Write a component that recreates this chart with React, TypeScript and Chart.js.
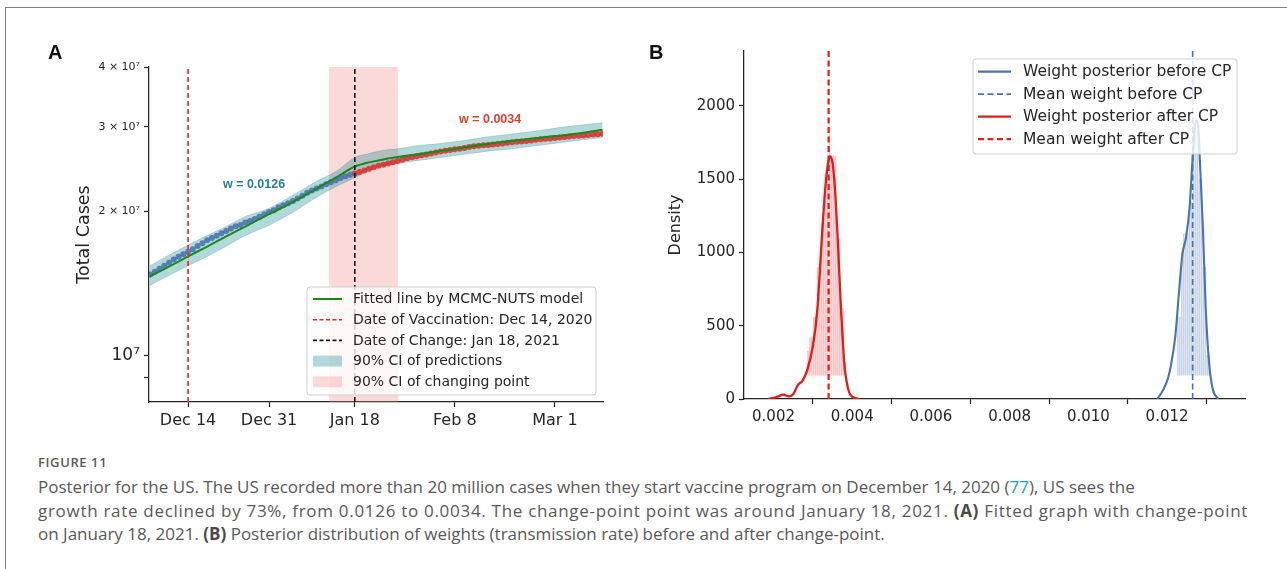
import React, { useEffect, useRef } from 'react';
import { Chart, registerables } from 'chart.js';

Chart.register(...registerables);

const FONT = '"DejaVu Sans", "Liberation Sans", sans-serif';
const AXIS_COLOR = '#262626';

// ---------------- Panel A data ----------------
// days are counted from Dec 14, 2020
const X_TICK_DAYS_A = [0, 17, 35, 56, 77];
const X_TICK_LABELS_A = ['Dec 14', 'Dec 31', 'Jan 18', 'Feb 8', 'Mar 1'];
const Y_TICK_VALUES_A = [9e6, 1e7, 2e7, 3e7, 4e7];
const Y_TICK_LABELS_A = ['', '10⁷', '2 × 10⁷', '3 × 10⁷', '4 × 10⁷'];
const X_RANGE_A = [-8.2, 87.1];
const Y_RANGE_A = [8.0e6, 4.0e7];
const FIRST_DAY = -8; // Dec 6, 2020
const VACCINATION_DAY = 0; // Dec 14, 2020
const CHANGE_DAY = 35; // Jan 18, 2021
const CHANGE_CI_DAYS = [29.6, 44.1];

// observed total cases (millions), Dec 6 – Jan 17
const CASES_BEFORE_CP = [
  14.76, 14.95, 15.17, 15.39, 15.62, 15.86, 16.08, 16.27, 16.47, 16.67,
  16.92, 17.16, 17.41, 17.6, 17.79, 17.99, 18.19, 18.42, 18.62, 18.72,
  18.94, 19.09, 19.28, 19.48, 19.71, 19.94, 20.09, 20.38, 20.59, 20.78,
  21.01, 21.27, 21.55, 21.85, 22.1, 22.31, 22.53, 22.76, 22.99, 23.22,
  23.46, 23.66, 23.83,
];
// observed total cases (millions), Jan 18 – Mar 11
const CASES_AFTER_CP = [
  23.97, 24.14, 24.33, 24.52, 24.71, 24.88, 25.02, 25.17, 25.32, 25.47,
  25.63, 25.79, 25.93, 26.04, 26.17, 26.28, 26.4, 26.52, 26.65, 26.75,
  26.84, 26.93, 27.02, 27.12, 27.22, 27.32, 27.4, 27.46, 27.51, 27.57,
  27.64, 27.71, 27.79, 27.86, 27.92, 27.97, 28.04, 28.11, 28.19, 28.27,
  28.33, 28.38, 28.44, 28.5, 28.57, 28.63, 28.7, 28.76, 28.8, 28.85,
  28.91, 28.97, 29.03,
];
// fitted line (millions)
const FIT_DAYS = [-8, -4, 0, 4, 8, 12, 17, 22, 27, 31, 35, 37, 39, 42, 45, 49, 53, 57, 61, 65, 69, 73, 77, 81, 84, 87];
const FIT_CASES = [
  14.62, 15.33, 16.1, 16.88, 17.72, 18.58, 19.72, 20.9, 22.3, 23.5,
  24.8, 25.15, 25.42, 25.78, 26.05, 26.38, 26.72, 27.1, 27.48, 27.82,
  28.12, 28.42, 28.7, 29.0, 29.28, 29.6,
];
// 90% CI of predictions (millions)
const BAND_DAYS = [-8, -4, 0, 4, 8, 12, 17, 22, 27, 31, 35, 38, 41, 44, 48, 53, 58, 63, 68, 73, 78, 83, 87];
const BAND_UPPER = [15.4, 16.2, 17.0, 17.8, 18.6, 19.5, 20.3, 21.6, 23.1, 24.2, 25.9, 26.4, 26.8, 27.0, 27.4, 27.7, 28.1, 28.6, 29.0, 29.4, 29.9, 30.3, 30.6];
const BAND_LOWER = [14.0, 14.7, 15.4, 16.1, 16.9, 17.8, 18.7, 19.9, 21.4, 22.5, 23.5, 24.3, 24.9, 25.2, 25.5, 25.9, 26.3, 26.7, 27.0, 27.4, 27.8, 28.2, 28.5];

const LEGEND_A_LABELS = [
  'Fitted line by MCMC-NUTS model',
  'Date of Vaccination: Dec 14, 2020',
  'Date of Change: Jan 18, 2021',
  '90% CI of predictions',
  '90% CI of changing point',
];

// ---------------- Panel B data ----------------
const X_TICKS_B = [0.002, 0.004, 0.006, 0.008, 0.01, 0.012];
const X_TICK_LABELS_B = ['0.002', '0.004', '0.006', '0.008', '0.010', '0.012'];
const Y_TICKS_B = [0, 500, 1000, 1500, 2000];
const X_RANGE_B = [0.00125, 0.01398];
const Y_RANGE_B = [0, 2375];
const MEAN_BEFORE = 0.01265;
const MEAN_AFTER = 0.0034;

const KDE_AFTER_X = [0.00186, 0.002, 0.00212, 0.00224, 0.0024, 0.0025, 0.00262, 0.00274, 0.00286, 0.003, 0.00311, 0.00322, 0.00331, 0.00338, 0.00344, 0.0035, 0.00356, 0.00363, 0.00371, 0.0038, 0.0039, 0.00402, 0.00418];
const KDE_AFTER_Y = [0, 7, 18, 30, 18, 32, 95, 125, 200, 360, 600, 1060, 1420, 1600, 1655, 1610, 1440, 1100, 640, 240, 65, 12, 0];
const KDE_BEFORE_X = [0.01175, 0.01189, 0.01203, 0.01212, 0.01221, 0.0123, 0.01239, 0.01248, 0.01257, 0.01266, 0.01273, 0.01278, 0.01284, 0.01291, 0.01298, 0.01307, 0.01316, 0.0133];
const KDE_BEFORE_Y = [0, 57, 148, 262, 430, 720, 990, 1100, 1300, 1690, 1900, 1890, 1590, 1170, 630, 240, 68, 0];

const HIST_BASE = 160;
const HIST_AFTER_BINS = [0.002875, 0.002925, 0.002975, 0.003025, 0.003075, 0.003125, 0.003175, 0.003225, 0.003275, 0.003325, 0.003375, 0.003425, 0.003475, 0.003525, 0.003575, 0.003625, 0.003675, 0.003725, 0.003775, 0.003825];
const HIST_AFTER_HEIGHTS = [330, 420, 420, 560, 560, 900, 900, 1200, 1200, 1500, 1500, 1840, 1660, 1660, 1660, 1100, 1100, 620, 620, 250];
const HIST_BEFORE_BINS = [0.012275, 0.012325, 0.012375, 0.012425, 0.012475, 0.012525, 0.012575, 0.012625, 0.012675, 0.012725, 0.012775, 0.012825, 0.012875, 0.012925, 0.012975, 0.013025, 0.013075];
const HIST_BEFORE_HEIGHTS = [560, 560, 1000, 1130, 1130, 1130, 1350, 1350, 1900, 1920, 1900, 1500, 1500, 900, 900, 300, 300];

const LEGEND_B_LABELS = [
  'Weight posterior before CP',
  'Mean weight before CP',
  'Weight posterior after CP',
  'Mean weight after CP',
];

// ---------------- colours ----------------
const GREEN = '#178a17';
const BLUE_DOT = 'rgba(70,110,175,0.85)';
const RED_DOT = 'rgba(218,45,45,0.85)';
const TEAL_FILL = 'rgba(0,128,128,0.3)';
const TEAL_EDGE = 'rgba(0,128,128,0.22)';
const PINK_FILL = 'rgba(240,128,128,0.3)';
const VAC_RED = '#e8262a';
const CHANGE_BLACK = '#1a1a1a';
const KDE_RED = '#e41a1c';
const KDE_BLUE = '#4c72b0';

type Row = { kind: 'line' | 'patch'; color: string; dash?: number[]; width?: number };

function drawLegend(
  ctx: CanvasRenderingContext2D,
  box: { x: number; y: number; w: number; h: number },
  rows: Row[],
  labels: string[],
  o: { first: number; gap: number; s0: number; s1: number; tx: number; font: string; patchH: number }
) {
  ctx.save();
  ctx.beginPath();
  if ((ctx as any).roundRect) (ctx as any).roundRect(box.x, box.y, box.w, box.h, 3);
  else ctx.rect(box.x, box.y, box.w, box.h);
  ctx.fillStyle = 'rgba(255,255,255,0.8)';
  ctx.fill();
  ctx.strokeStyle = '#cfcfcf';
  ctx.lineWidth = 1;
  ctx.stroke();
  rows.forEach((r, i) => {
    const cy = box.y + o.first + i * o.gap;
    if (r.kind === 'patch') {
      ctx.fillStyle = r.color;
      ctx.fillRect(box.x + o.s0, cy - o.patchH / 2, o.s1 - o.s0, o.patchH);
    } else {
      ctx.beginPath();
      ctx.setLineDash(r.dash || []);
      ctx.strokeStyle = r.color;
      ctx.lineWidth = r.width || 2;
      ctx.moveTo(box.x + o.s0, cy);
      ctx.lineTo(box.x + o.s1, cy);
      ctx.stroke();
      ctx.setLineDash([]);
    }
    ctx.fillStyle = AXIS_COLOR;
    ctx.font = o.font;
    ctx.textAlign = 'left';
    ctx.textBaseline = 'middle';
    ctx.fillText(labels[i], box.x + o.tx, cy + 0.5);
  });
  ctx.restore();
}

function vline(ctx: CanvasRenderingContext2D, x: number, top: number, bottom: number, color: string, dash: number[], width: number) {
  ctx.save();
  ctx.beginPath();
  ctx.setLineDash(dash);
  ctx.strokeStyle = color;
  ctx.lineWidth = width;
  ctx.moveTo(x, bottom);
  ctx.lineTo(x, top);
  ctx.stroke();
  ctx.restore();
}

const panelAPlugin = {
  id: 'panelA',
  beforeDatasetsDraw(chart: any) {
    const { ctx, chartArea: ca, scales } = chart;
    const x0 = scales.x.getPixelForValue(CHANGE_CI_DAYS[0]);
    const x1 = scales.x.getPixelForValue(CHANGE_CI_DAYS[1]);
    ctx.save();
    ctx.fillStyle = PINK_FILL;
    ctx.fillRect(x0, ca.top, x1 - x0, ca.bottom - ca.top);
    ctx.restore();
  },
  afterDatasetsDraw(chart: any) {
    const { ctx, chartArea: ca, scales } = chart;
    vline(ctx, scales.x.getPixelForValue(VACCINATION_DAY), ca.top, ca.bottom, VAC_RED, [5, 3], 1.6);
    vline(ctx, scales.x.getPixelForValue(CHANGE_DAY), ca.top, ca.bottom, CHANGE_BLACK, [5, 3], 1.6);
    ctx.save();
    ctx.font = 'bold 12.5px "Liberation Sans", Arial, sans-serif';
    ctx.textAlign = 'center';
    ctx.textBaseline = 'middle';
    ctx.fillStyle = '#2a7d9f';
    ctx.fillText('w = 0.0126', scales.x.getPixelForValue(13.85), scales.y.getPixelForValue(2.275e7));
    ctx.fillStyle = '#d9412f';
    ctx.fillText('w = 0.0034', scales.x.getPixelForValue(63.4), scales.y.getPixelForValue(3.11e7));
    ctx.restore();
  },
  afterDraw(chart: any) {
    const { ctx, chartArea: ca } = chart;
    const w = 289, h = 108;
    drawLegend(
      ctx,
      { x: ca.right - 7 - w, y: ca.bottom - 7 - h, w, h },
      [
        { kind: 'line', color: GREEN, width: 2 },
        { kind: 'line', color: VAC_RED, dash: [4, 2.5], width: 1.6 },
        { kind: 'line', color: CHANGE_BLACK, dash: [4, 2.5], width: 1.6 },
        { kind: 'patch', color: TEAL_FILL },
        { kind: 'patch', color: PINK_FILL },
      ],
      LEGEND_A_LABELS,
      { first: 12, gap: 20.7, s0: 6, s1: 35, tx: 46, font: '14px ' + FONT, patchH: 11 }
    );
  },
};

const panelBPlugin = {
  id: 'panelB',
  afterDatasetsDraw(chart: any) {
    const { ctx, chartArea: ca, scales } = chart;
    vline(ctx, scales.x.getPixelForValue(MEAN_AFTER), ca.top, ca.bottom, KDE_RED, [6, 3.5], 2.2);
    vline(ctx, scales.x.getPixelForValue(MEAN_BEFORE), ca.top, ca.bottom, KDE_BLUE, [6, 3.5], 1.6);
  },
  afterDraw(chart: any) {
    const { ctx, chartArea: ca } = chart;
    drawLegend(
      ctx,
      { x: ca.left + 229, y: ca.top + 8, w: 264, h: 95 },
      [
        { kind: 'line', color: KDE_BLUE, width: 2.2 },
        { kind: 'line', color: KDE_BLUE, dash: [6, 3.5], width: 1.8 },
        { kind: 'line', color: KDE_RED, width: 2.2 },
        { kind: 'line', color: KDE_RED, dash: [6, 3.5], width: 2.2 },
      ],
      LEGEND_B_LABELS,
      { first: 12.7, gap: 22.5, s0: 5, s1: 38, tx: 50, font: '15.5px ' + FONT, patchH: 11 }
    );
  },
};

function axisCommon() {
  return {
    grid: { drawOnChartArea: false, drawTicks: true, tickLength: 5, tickColor: AXIS_COLOR, tickWidth: 1.25 },
    border: { display: true, color: AXIS_COLOR, width: 1.25 },
  };
}

function configA(): any {
  const before = CASES_BEFORE_CP.map((v, i) => ({ x: FIRST_DAY + i, y: v * 1e6 }));
  const after = CASES_AFTER_CP.map((v, i) => ({ x: CHANGE_DAY + i, y: v * 1e6 }));
  const fit = FIT_DAYS.map((d, i) => ({ x: d, y: FIT_CASES[i] * 1e6 }));
  const lower = BAND_DAYS.map((d, i) => ({ x: d, y: BAND_LOWER[i] * 1e6 }));
  const upper = BAND_DAYS.map((d, i) => ({ x: d, y: BAND_UPPER[i] * 1e6 }));
  return {
    type: 'line',
    data: {
      datasets: [
        { label: 'fit', data: fit, borderColor: GREEN, borderWidth: 2, pointRadius: 0, cubicInterpolationMode: 'monotone', fill: false, order: 1 },
        { label: 'before', data: before, showLine: false, pointRadius: 3, pointBorderWidth: 0, pointBackgroundColor: BLUE_DOT, order: 2 },
        { label: 'after', data: after, showLine: false, pointRadius: 3, pointBorderWidth: 0, pointBackgroundColor: RED_DOT, order: 2 },
        { label: 'lower', data: lower, borderColor: TEAL_EDGE, borderWidth: 1, pointRadius: 0, tension: 0.3, fill: false, order: 5 },
        { label: 'upper', data: upper, borderColor: TEAL_EDGE, borderWidth: 1, pointRadius: 0, tension: 0.3, fill: '-1', backgroundColor: TEAL_FILL, order: 5 },
      ],
    },
    options: {
      animation: false,
      responsive: false,
      events: [],
      layout: { padding: { left: 74, top: 67, right: 37, bottom: 5 } },
      plugins: { legend: { display: false }, tooltip: { enabled: false } },
      scales: {
        x: {
          type: 'linear',
          min: X_RANGE_A[0],
          max: X_RANGE_A[1],
          afterBuildTicks: (s: any) => { s.ticks = X_TICK_DAYS_A.map((v) => ({ value: v })); },
          afterFit: (s: any) => { s.height = 38; },
          ticks: {
            autoSkip: false, maxRotation: 0, minRotation: 0, padding: 4,
            color: AXIS_COLOR, font: { family: FONT, size: 16 },
            callback: (v: number) => X_TICK_LABELS_A[X_TICK_DAYS_A.indexOf(v)] ?? '',
          },
          ...axisCommon(),
        },
        y: {
          type: 'logarithmic',
          min: Y_RANGE_A[0],
          max: Y_RANGE_A[1],
          afterBuildTicks: (s: any) => { s.ticks = Y_TICK_VALUES_A.map((v) => ({ value: v })); },
          afterFit: (s: any) => { s.width = 75; },
          ticks: {
            autoSkip: false, padding: 4, color: AXIS_COLOR,
            font: (c: any) => ({ family: FONT, size: c.tick && c.tick.value === 1e7 ? 17 : 11 }),
            callback: (v: number) => Y_TICK_LABELS_A[Y_TICK_VALUES_A.indexOf(v)] ?? '',
          },
          title: { display: true, text: 'Total Cases', color: AXIS_COLOR, font: { family: FONT, size: 17.5 }, padding: { top: 0, bottom: 0 } },
          ...axisCommon(),
        },
      },
    },
    plugins: [panelAPlugin],
  };
}

function configB(): any {
  const kdeAfter = KDE_AFTER_X.map((x, i) => ({ x, y: KDE_AFTER_Y[i] }));
  const kdeBefore = KDE_BEFORE_X.map((x, i) => ({ x, y: KDE_BEFORE_Y[i] }));
  const histAfter = HIST_AFTER_BINS.map((x, i) => ({ x, y: [HIST_BASE, HIST_AFTER_HEIGHTS[i]] }));
  const histBefore = HIST_BEFORE_BINS.map((x, i) => ({ x, y: [HIST_BASE, HIST_BEFORE_HEIGHTS[i]] }));
  return {
    type: 'line',
    data: {
      datasets: [
        { label: 'kde after', data: kdeAfter, borderColor: KDE_RED, borderWidth: 2.3, pointRadius: 0, cubicInterpolationMode: 'monotone', fill: false, order: 1 },
        { label: 'kde before', data: kdeBefore, borderColor: KDE_BLUE, borderWidth: 2.1, pointRadius: 0, cubicInterpolationMode: 'monotone', fill: false, order: 1 },
        { type: 'bar', label: 'hist after', data: histAfter, backgroundColor: 'rgba(238,60,60,0.32)', borderWidth: 0, grouped: false, barPercentage: 0.78, categoryPercentage: 1, order: 3 },
        { type: 'bar', label: 'hist before', data: histBefore, backgroundColor: 'rgba(76,114,176,0.32)', borderWidth: 0, grouped: false, barPercentage: 0.78, categoryPercentage: 1, order: 3 },
      ],
    },
    options: {
      animation: false,
      responsive: false,
      events: [],
      layout: { padding: { left: 26, top: 51, right: 42, bottom: 5 } },
      plugins: { legend: { display: false }, tooltip: { enabled: false } },
      scales: {
        x: {
          type: 'linear',
          min: X_RANGE_B[0],
          max: X_RANGE_B[1],
          offset: false,
          afterBuildTicks: (s: any) => { s.ticks = X_TICKS_B.map((v) => ({ value: v })); },
          afterFit: (s: any) => { s.height = 41; },
          ticks: {
            autoSkip: false, maxRotation: 0, minRotation: 0, padding: 4,
            color: AXIS_COLOR, font: { family: FONT, size: 15 },
            callback: (v: number, i: number) => X_TICK_LABELS_B[i] ?? '',
          },
          ...axisCommon(),
        },
        y: {
          type: 'linear',
          min: Y_RANGE_B[0],
          max: Y_RANGE_B[1],
          afterBuildTicks: (s: any) => { s.ticks = Y_TICKS_B.map((v) => ({ value: v })); },
          afterFit: (s: any) => { s.width = 78; },
          ticks: { autoSkip: false, padding: 4, color: AXIS_COLOR, font: { family: FONT, size: 15 }, callback: (v: number) => String(v) },
          title: { display: true, text: 'Density', color: AXIS_COLOR, font: { family: FONT, size: 16 }, padding: { top: 0, bottom: 0 } },
          ...axisCommon(),
        },
      },
    },
    plugins: [panelBPlugin],
  };
}

export default function App() {
  const refA = useRef<HTMLCanvasElement>(null);
  const refB = useRef<HTMLCanvasElement>(null);

  useEffect(() => {
    const a = new Chart(refA.current as HTMLCanvasElement, configA());
    const b = new Chart(refB.current as HTMLCanvasElement, configB());
    return () => {
      a.destroy();
      b.destroy();
    };
  }, []);

  const captionFont = '"Open Sans", "Noto Sans", sans-serif';
  const lineStyle: React.CSSProperties = { whiteSpace: 'nowrap', height: 23.5, lineHeight: '23.5px' };
  const bold: React.CSSProperties = { fontWeight: 700, color: '#4a4a4a' };

  return (
    <div style={{ position: 'absolute', left: 0, top: 0, width: 1287, height: 569, background: '#fff', overflow: 'hidden' }}>
      <div style={{ position: 'absolute', left: 5, top: 7, width: 1400, height: 700, borderLeft: '1.5px solid #808080', borderTop: '1.5px solid #808080' }} />
      <canvas ref={refA} width={640} height={445} style={{ position: 'absolute', left: 0, top: 0, width: 640, height: 445 }} />
      <canvas ref={refB} width={647} height={445} style={{ position: 'absolute', left: 640, top: 0, width: 647, height: 445 }} />
      <div style={{ position: 'absolute', left: 48, top: 42, font: 'bold 20px "Liberation Sans", Arial, sans-serif', lineHeight: '20px', color: '#111' }}>A</div>
      <div style={{ position: 'absolute', left: 649, top: 42, font: 'bold 20px "Liberation Sans", Arial, sans-serif', lineHeight: '20px', color: '#111' }}>B</div>
      <div style={{ position: 'absolute', left: 38, top: 456, fontFamily: captionFont, fontSize: 13, fontWeight: 600, lineHeight: '13px', letterSpacing: 0.6, color: '#5a5a5a' }}>FIGURE 11</div>
      <div style={{ position: 'absolute', left: 38, top: 475, fontFamily: captionFont, fontSize: 17, color: '#595959' }}>
        <div style={lineStyle}>
          Posterior for the US. The US recorded more than 20 million cases when they start vaccine program on December 14, 2020 (<span style={{ color: '#13a3c4' }}>77</span>), US sees the
        </div>
        <div style={{ ...lineStyle, letterSpacing: 0.7 }}>
          growth rate declined by 73%, from 0.0126 to 0.0034. The change-point point was around January 18, 2021. <span style={bold}>(A)</span> Fitted graph with change-point
        </div>
        <div style={lineStyle}>
          on January 18, 2021. <span style={bold}>(B)</span> Posterior distribution of weights (transmission rate) before and after change-point.
        </div>
      </div>
    </div>
  );
}
